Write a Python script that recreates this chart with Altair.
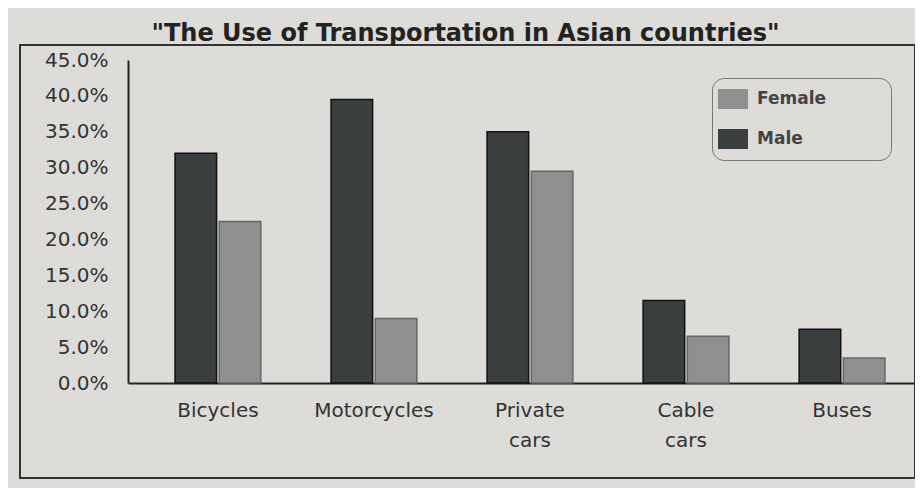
import altair as alt
import pandas as pd

categories = ["Bicycles", "Motorcycles", "Private cars", "Cable cars", "Buses"]
male = [32.0, 39.5, 35.0, 11.5, 7.5]
female = [22.5, 9.0, 29.5, 6.5, 3.5]
y_ticks = [0, 5, 10, 15, 20, 25, 30, 35, 40, 45]

rows = []
for c, m, f in zip(categories, male, female):
    rows.append({"mode": c, "gender": "Male", "value": m})
    rows.append({"mode": c, "gender": "Female", "value": f})
df = pd.DataFrame(rows)

W, H = 787, 323
BG = "#dddcd8"
FONT = "DejaVu Sans"
PAD = "\u2800" * 4

bars = alt.Chart(df).mark_bar(strokeWidth=1.5).encode(
    x=alt.X("mode:N", sort=categories, title=None,
            scale=alt.Scale(paddingInner=0.45, paddingOuter=0.247, align=0.61),
            axis=alt.Axis(labelAngle=0, ticks=False, domain=True, domainColor="#222",
                          domainWidth=2, labelFontSize=20, labelColor="#333",
                          labelFont=FONT, labelPadding=17, labelLineHeight=30,
                          labelExpr="split(datum.label, ' ')")),
    xOffset=alt.XOffset("gender:N", sort=["Male", "Female"],
                        scale=alt.Scale(paddingInner=0.06)),
    y=alt.Y("value:Q", title=None,
            scale=alt.Scale(domain=[0, 45], nice=False),
            axis=alt.Axis(values=y_ticks, grid=False, ticks=False, domainColor="#222",
                          domainWidth=2, labelFontSize=20, labelColor="#333",
                          labelFont=FONT, labelPadding=20,
                          labelExpr="format(datum.value, '.1f') + '%'")),
    color=alt.Color("gender:N",
                    scale=alt.Scale(domain=["Female", "Male"], range=["#8e908f", "#3b3e3e"]),
                    legend=alt.Legend(title=None, orient="none", legendX=584, legendY=18,
                                      padding=11, strokeColor="#777", cornerRadius=12,
                                      fillColor=BG, symbolType="M-1.5,-1H1.5V1H-1.5Z",
                                      symbolSize=400, symbolStrokeWidth=0,
                                      labelFontSize=17, labelFont=FONT,
                                      labelFontWeight="bold", labelColor="#444",
                                      labelOffset=14, rowPadding=20, labelLimit=200,
                                      labelExpr=f"datum.label + '{PAD}'")),
    stroke=alt.Stroke("gender:N",
                      scale=alt.Scale(domain=["Female", "Male"], range=["#666", "#111"]),
                      legend=None),
)

frame_df = pd.DataFrame({"k": [1]})
frame = alt.Chart(frame_df).mark_rect(fill=None, stroke="#333", strokeWidth=2).encode(
    x=alt.value(-108), x2=alt.value(787), y=alt.value(-15), y2=alt.value(418)
)

chart = alt.layer(frame, bars).properties(
    width=W, height=H,
    autosize=alt.AutoSizeParams(type="none"),
    padding={"left": 120, "top": 52, "right": 0, "bottom": 105},
    background=BG,
    title=alt.Title('"The Use of Transportation in Asian countries"', fontSize=24,
                    font=FONT, fontWeight="bold", color="#222", offset=-2, dx=-56,
                    anchor="middle"),
).configure_view(stroke=None)

chart.save("out.html", embed_options={"renderer": "svg", "actions": False})
